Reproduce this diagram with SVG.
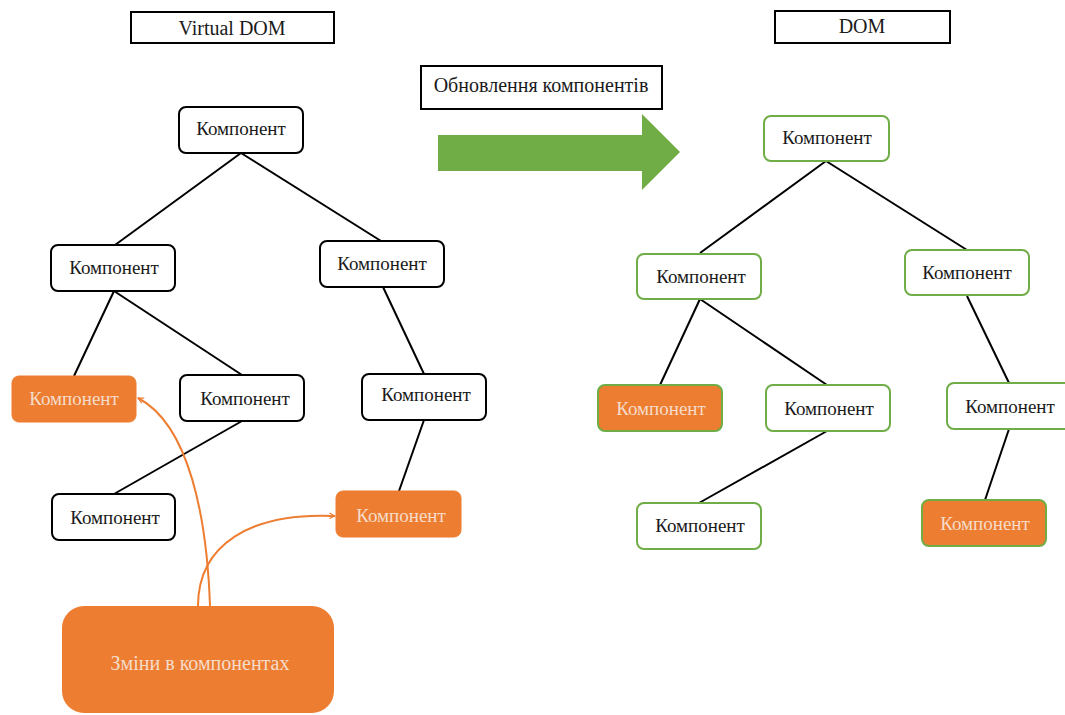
<svg xmlns="http://www.w3.org/2000/svg" width="1065" height="715" viewBox="0 0 1065 715">
  <style>
    .t { font-family: 'Liberation Serif', 'DejaVu Serif', 'Times New Roman', serif; text-anchor: middle; }
    .lbl { font-size: 19px; fill: #1a1a1a; }
    .lbl-o { font-size: 19px; fill: #F6DCCB; }
    .title { font-size: 20px; fill: #1a1a1a; }
    .box-title { fill: #ffffff; stroke: #000000; stroke-width: 2; }
    .vnode { fill: #ffffff; stroke: #000000; stroke-width: 2; }
    .vnode-o { fill: #ED7D31; stroke: #ED7D31; stroke-width: 1; }
    .dnode { fill: #ffffff; stroke: #70AD47; stroke-width: 2; }
    .dnode-o { fill: #ED7D31; stroke: #70AD47; stroke-width: 2; }
    .edge { stroke: #000000; stroke-width: 2; fill: none; }
    .change { stroke: #ED7D31; stroke-width: 2; fill: none; }
  </style>
  <defs>
    <marker id="openArrow" viewBox="0 0 10 10" refX="9" refY="5" markerWidth="7" markerHeight="7" orient="auto" markerUnits="userSpaceOnUse">
      <path d="M1,1 L9,5 L1,9" fill="none" stroke="#ED7D31" stroke-width="1.6"/>
    </marker>
  </defs>

  <rect width="1065" height="715" fill="#ffffff"/>

  <!-- titles -->
  <g id="title-virtual-dom">
    <rect class="box-title" x="131" y="12" width="203" height="31"/>
    <text class="t title" x="232" y="35">Virtual DOM</text>
  </g>
  <g id="title-dom">
    <rect class="box-title" x="775" y="11" width="175" height="32"/>
    <text class="t title" x="862" y="33">DOM</text>
  </g>
  <g id="title-update">
    <rect class="box-title" x="421" y="66" width="241" height="43"/>
    <text class="t title" x="541" y="92">Обновлення компонентів</text>
  </g>

  <!-- big green block arrow -->
  <g id="update-arrow">
    <path d="M438,135 L642,135 L642,114 L680,152 L642,190 L642,171 L438,171 Z" fill="#70AD47"/>
  </g>

  <!-- connectors -->
  <g id="connectors">
    <!-- virtual DOM tree -->
    <line class="edge" x1="241" y1="153" x2="115" y2="245"/>
    <line class="edge" x1="241" y1="153" x2="381" y2="241"/>
    <line class="edge" x1="114" y1="291" x2="74" y2="376"/>
    <line class="edge" x1="114" y1="291" x2="242" y2="375"/>
    <line class="edge" x1="383" y1="287" x2="424" y2="374"/>
    <line class="edge" x1="242" y1="421" x2="114" y2="494"/>
    <line class="edge" x1="424" y1="420" x2="399" y2="491"/>
    <!-- DOM tree -->
    <line class="edge" x1="826" y1="161" x2="700" y2="253"/>
    <line class="edge" x1="826" y1="161" x2="967" y2="250"/>
    <line class="edge" x1="700" y1="299" x2="660" y2="385"/>
    <line class="edge" x1="700" y1="299" x2="827" y2="385"/>
    <line class="edge" x1="967" y1="296" x2="1009" y2="383"/>
    <line class="edge" x1="827" y1="431" x2="699" y2="503"/>
    <line class="edge" x1="1009" y1="429" x2="985" y2="500"/>
    <!-- changes pointing into virtual DOM nodes -->
    <path class="change" d="M210,606 C207,520 190,425 138,398" marker-end="url(#openArrow)"/>
    <path class="change" d="M198,606 C198,545 250,512 335,516" marker-end="url(#openArrow)"/>
  </g>

  <!-- virtual DOM nodes -->
  <g id="v-root"><rect class="vnode" x="179" y="107" width="124" height="46" rx="7"/><text class="t lbl" x="241" y="135">Компонент</text></g>
  <g id="v-l1-left"><rect class="vnode" x="51" y="245" width="124" height="46" rx="7"/><text class="t lbl" x="114" y="274">Компонент</text></g>
  <g id="v-l1-right"><rect class="vnode" x="320" y="241" width="124" height="46" rx="7"/><text class="t lbl" x="382" y="270">Компонент</text></g>
  <g id="v-l2-changed"><rect class="vnode-o" x="12" y="376" width="124" height="46" rx="7"/><text class="t lbl-o" x="74" y="405">Компонент</text></g>
  <g id="v-l2-mid"><rect class="vnode" x="180" y="375" width="124" height="46" rx="7"/><text class="t lbl" x="245" y="405">Компонент</text></g>
  <g id="v-l2-right"><rect class="vnode" x="362" y="374" width="124" height="46" rx="7"/><text class="t lbl" x="426" y="401">Компонент</text></g>
  <g id="v-l3-left"><rect class="vnode" x="52" y="494" width="123" height="46" rx="7"/><text class="t lbl" x="115" y="524">Компонент</text></g>
  <g id="v-l3-changed"><rect class="vnode-o" x="336" y="491" width="125" height="46" rx="7"/><text class="t lbl-o" x="401" y="522">Компонент</text></g>

  <!-- source of changes -->
  <g id="changes">
    <rect x="62" y="606" width="272" height="107" rx="22" fill="#ED7D31"/>
    <text class="t" x="200" y="670" font-size="20" fill="#F6DCCB">Зміни в компонентах</text>
  </g>

  <!-- DOM nodes -->
  <g id="d-root"><rect class="dnode" x="764" y="116" width="125" height="45" rx="7"/><text class="t lbl" x="827" y="144">Компонент</text></g>
  <g id="d-l1-left"><rect class="dnode" x="637" y="254" width="124" height="45" rx="7"/><text class="t lbl" x="701" y="283">Компонент</text></g>
  <g id="d-l1-right"><rect class="dnode" x="905" y="250" width="124" height="45" rx="7"/><text class="t lbl" x="967" y="279">Компонент</text></g>
  <g id="d-l2-changed"><rect class="dnode-o" x="598" y="385" width="124" height="46" rx="7"/><text class="t lbl-o" x="661" y="415">Компонент</text></g>
  <g id="d-l2-mid"><rect class="dnode" x="766" y="385" width="124" height="46" rx="7"/><text class="t lbl" x="829" y="415">Компонент</text></g>
  <g id="d-l2-right"><rect class="dnode" x="947" y="383" width="126" height="46" rx="7"/><text class="t lbl" x="1010" y="413">Компонент</text></g>
  <g id="d-l3-left"><rect class="dnode" x="637" y="503" width="124" height="46" rx="7"/><text class="t lbl" x="700" y="532">Компонент</text></g>
  <g id="d-l3-changed"><rect class="dnode-o" x="922" y="500" width="124" height="46" rx="7"/><text class="t lbl-o" x="985" y="530">Компонент</text></g>
</svg>
